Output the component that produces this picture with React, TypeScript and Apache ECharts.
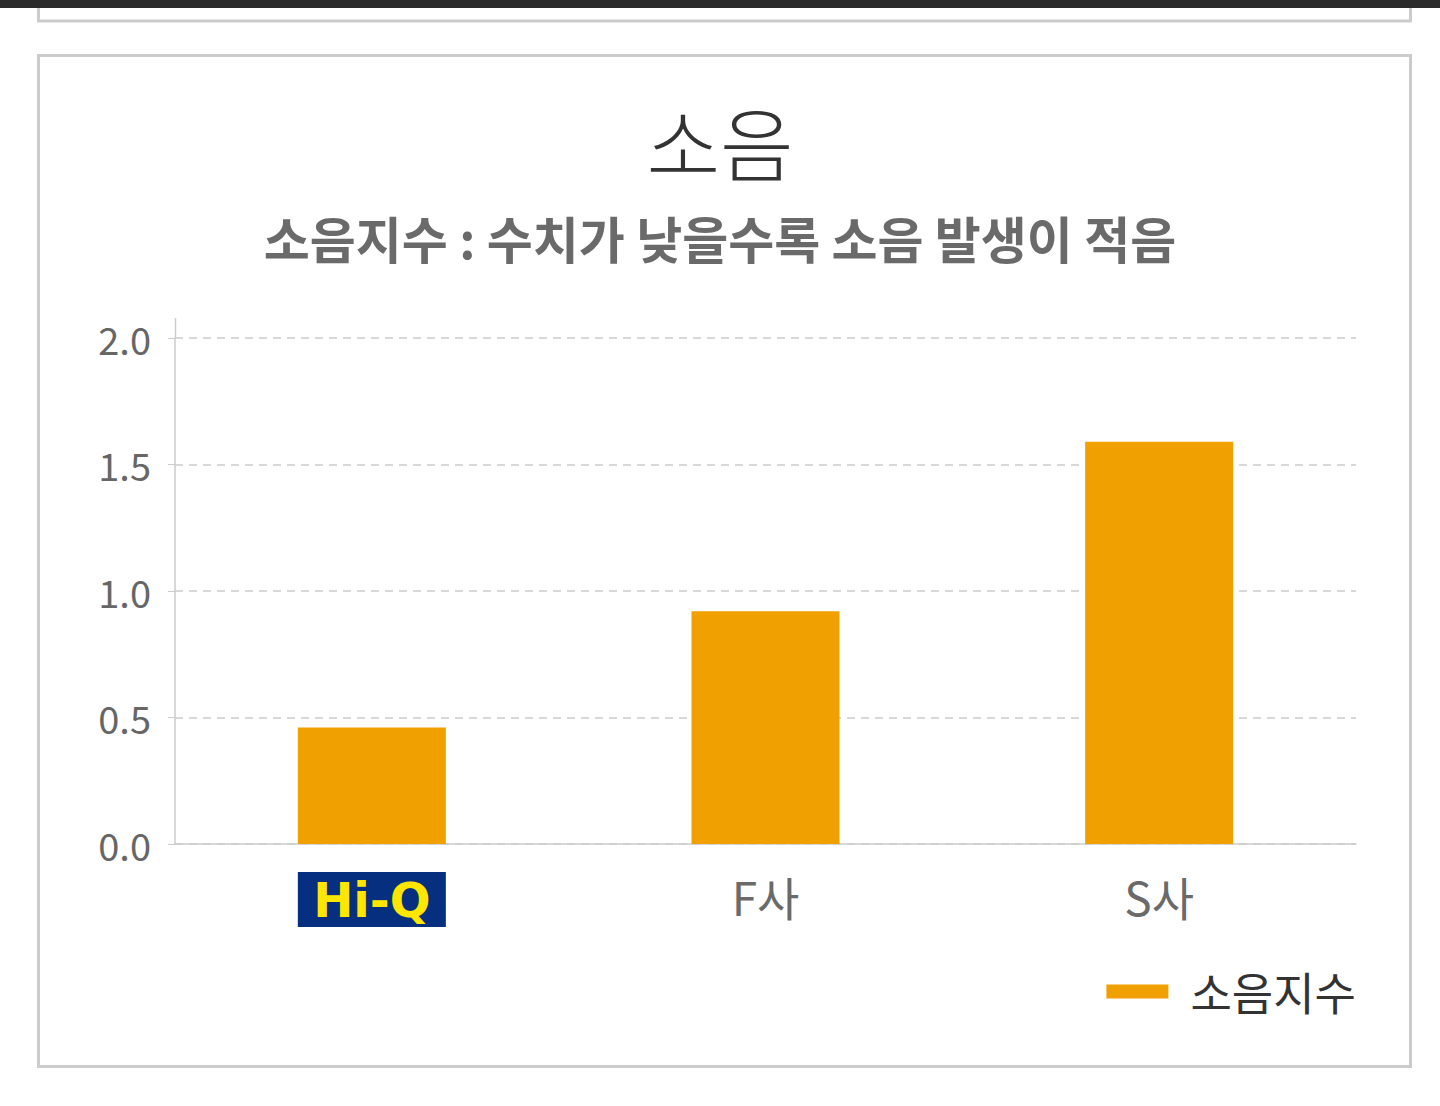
// 소음지수 비교 막대 차트 — Hi-Q / F사 / S사
import * as React from "react";
import * as echarts from "echarts";

const categories = ["Hi-Q", "F사", "S사"];
const noiseIndex = [0.46, 0.92, 1.59];
const yTicks = { min: 0, max: 2, interval: 0.5 };
const seriesName = "소음지수";
const titleText = "소음";
const subtitleText = "소음지수 : 수치가 낮을수록 소음 발생이 적음";

const FONT = "'Noto Sans CJK KR', 'Noto Sans', sans-serif";
const BAR = "#f0a000";
const BORDER = "#cccccc";

export default function App() {
  const ref = React.useRef<HTMLDivElement | null>(null);

  React.useEffect(() => {
    document.body.style.margin = "0";
    if (!ref.current) return;
    const chart = echarts.init(ref.current, undefined, { renderer: "svg" });
    chart.setOption({
      animation: false,
      backgroundColor: "#ffffff",
      textStyle: { fontFamily: FONT },
      title: [
        {
          text: titleText,
          left: "center",
          top: 95,
          textStyle: { fontFamily: FONT, fontSize: 80, fontWeight: 300, color: "#333333" },
        },
        {
          text: subtitleText,
          left: "center",
          top: 207,
          textStyle: { fontFamily: FONT, fontSize: 50, fontWeight: "bold", color: "#6a6a6a" },
        },
      ],
      graphic: [
        { type: "rect", shape: { x: 0, y: 0, width: 1440, height: 8 }, style: { fill: "#2b2b2b" }, z: 10 },
        {
          type: "rect",
          shape: { x: 38.5, y: -10, width: 1372, height: 31 },
          style: { fill: "none", stroke: BORDER, lineWidth: 3 },
        },
        {
          type: "rect",
          shape: { x: 38.5, y: 55.5, width: 1372, height: 1011 },
          style: { fill: "none", stroke: BORDER, lineWidth: 3 },
        },
        // y축 선이 2.0 위로 조금 더 올라가 있음
        {
          type: "line",
          shape: { x1: 175.5, y1: 318, x2: 175.5, y2: 338 },
          style: { stroke: BORDER, lineWidth: 1.5 },
        },
      ],
      legend: {
        right: 79,
        top: 964,
        icon: "rect",
        itemWidth: 62,
        itemHeight: 14,
        data: [seriesName],
        textStyle: { fontFamily: FONT, fontSize: 45, color: "#333333", padding: [0, 0, 0, 17] },
      },
      grid: { left: 175, right: 84, top: 338, bottom: 262 },
      xAxis: {
        type: "category",
        data: categories,
        axisLine: { lineStyle: { color: BORDER, width: 1.5 } },
        axisTick: { inside: true, length: 6, lineStyle: { color: BORDER } },
        axisLabel: {
          margin: 28,
          formatter: (v: string) => (v === "Hi-Q" ? `{hiq|${v}}` : `{n|${v}}`),
          rich: {
            hiq: {
              backgroundColor: "#06307f",
              color: "#ffe600",
              fontFamily: "'DejaVu Sans', sans-serif",
              fontWeight: "bold",
              fontSize: 48,
              width: 148,
              height: 55,
              lineHeight: 55,
              align: "center",
            },
            n: {
              fontFamily: FONT,
              fontSize: 46,
              color: "#6a6a6a",
              height: 47,
              lineHeight: 47,
            },
          },
        },
      },
      yAxis: {
        type: "value",
        min: yTicks.min,
        max: yTicks.max,
        interval: yTicks.interval,
        axisLine: { show: true, lineStyle: { color: BORDER, width: 1.5 } },
        axisTick: { show: true, length: 7, lineStyle: { color: BORDER } },
        axisLabel: {
          margin: 24,
          fontSize: 38,
          color: "#666666",
          fontFamily: FONT,
          padding: [0, 0, 12, 0],
          formatter: (v: number) => v.toFixed(1),
        },
        splitLine: { lineStyle: { color: BORDER, type: [8, 6], width: 1.5 } },
      },
      series: [
        {
          name: seriesName,
          type: "bar",
          data: noiseIndex,
          barWidth: "37.6%",
          itemStyle: { color: BAR },
        },
      ],
    });
    return () => chart.dispose();
  }, []);

  return <div ref={ref} style={{ width: 1440, height: 1106 }} />;
}
